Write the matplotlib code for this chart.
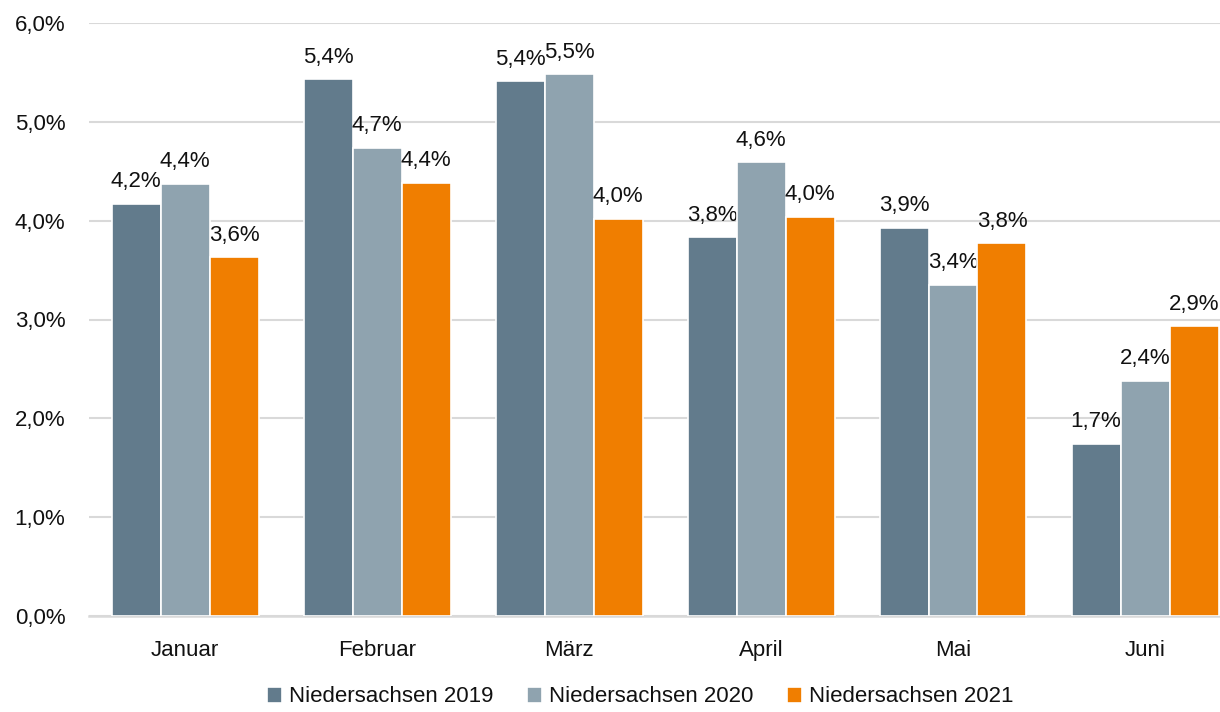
import matplotlib
matplotlib.use("Agg")
import matplotlib.pyplot as plt
import numpy as np

plt.rcParams['font.family'] = ['Liberation Sans', 'DejaVu Sans']

categories = ["Januar", "Februar", "März", "April", "Mai", "Juni"]
series_names = ["Niedersachsen 2019", "Niedersachsen 2020", "Niedersachsen 2021"]
v2019 = [4.17, 5.43, 5.41, 3.83, 3.93, 1.74]
v2020 = [4.37, 4.74, 5.48, 4.59, 3.35, 2.38]
v2021 = [3.63, 4.38, 4.02, 4.04, 3.77, 2.93]
yticks = [0, 1, 2, 3, 4, 5, 6]
colors = ["#627b8c", "#8fa3af", "#f07e00"]

W, H = 1220, 712
fig = plt.figure(figsize=(W / 100, H / 100), dpi=100)
left, right, bottom, top = 89, 1220, 616, 23
ax = fig.add_axes([left / W, 1 - bottom / H, (right - left) / W, (bottom - top) / H])

x = np.arange(len(categories))
slot = 49 / 192
for i, (vals, c, name) in enumerate(zip([v2019, v2020, v2021], colors, series_names)):
    pos = x + (i - 1) * slot
    bars = ax.bar(pos, vals, width=slot, color=c, edgecolor="white", linewidth=1.2, label=name, zorder=3)
    for b, v in zip(bars, vals):
        lbl = f"{v:.1f}".replace(".", ",") + "%"
        ax.annotate(lbl, (b.get_x() + b.get_width() / 2, b.get_height()), xytext=(0, 12),
                    textcoords="offset points", ha="center", va="baseline", fontsize=16, color="#111111")

ax.set_ylim(0, 6)
ax.set_xlim(-0.5, -0.5 + (right - left) / 192)
ax.set_yticks(yticks)
ax.set_yticklabels([f"{t},0%" for t in yticks], fontsize=16, color="#111111")
ax.set_xticks(x)
ax.set_xticklabels(categories, fontsize=16, color="#111111")
ax.tick_params(axis="both", length=0)
ax.tick_params(axis="y", pad=17)
ax.tick_params(axis="x", pad=17)
ax.yaxis.grid(True, color="#d9d9d9", linewidth=1.5, zorder=0)
ax.set_axisbelow(True)
for s in ["top", "right", "left"]:
    ax.spines[s].set_visible(False)
ax.spines["bottom"].set_color("#d9d9d9")
ax.spines["bottom"].set_linewidth(1.8)

leg = fig.legend(loc="center", bbox_to_anchor=(640 / W, 1 - 697 / H), ncol=3, frameon=False,
                 fontsize=16, handlelength=0.7, handleheight=0.7, handletextpad=0.3, columnspacing=1.5)
for t in leg.get_texts():
    t.set_color("#111111")

fig.savefig("out.png", dpi=100)
